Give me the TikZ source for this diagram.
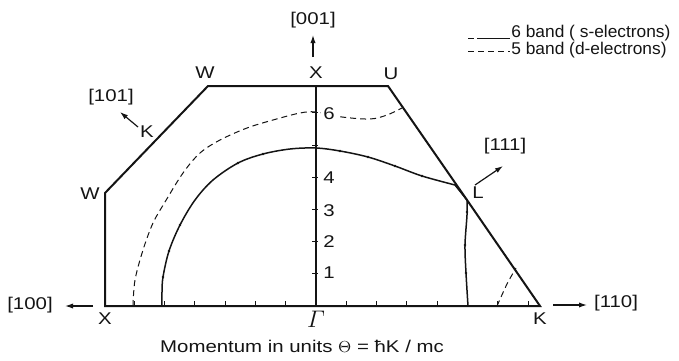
\documentclass[tikz,border=0pt]{standalone}
\usepackage{amsmath}
\usepackage{fontspec}
\setmainfont[FakeStretch=1.2]{Liberation Sans}
\newfontfamily\legfont[FakeStretch=1.02]{Liberation Sans}
\usetikzlibrary{arrows.meta}
\definecolor{ink}{HTML}{141414}
\tikzset{
  zone/.style={line width=1pt,ink,line join=miter},
  band/.style={line width=0.75pt,ink},
  dband/.style={line width=0.5pt,ink,dash pattern=on 3pt off 2pt},
  dirarrow/.style={-{Latex[length=4pt,width=2.6pt]},line width=0.6pt,ink},
  lbl/.style={font=\fontsize{8.5}{10}\selectfont,text=ink,inner sep=0pt}
}

\begin{document}
\begin{tikzpicture}[x=0.5pt,y=-0.5pt,
  tk/.style={line width=0.5pt,ink},
  axis/.style={line width=0.55pt,ink},
  dot/.style={ink},
  leg/.style={lbl,font=\legfont\fontsize{8.5}{10}\selectfont,anchor=west}]
\useasboundingbox (0,0) rectangle (679,360);
% corners of the zone
\coordinate (Gam) at (316,306);
\coordinate (Xl) at (105,306);
\coordinate (Wl) at (105,193);
\coordinate (Kl) at (156,140);
\coordinate (Wt) at (208,86);
\coordinate (Xt) at (316,86);
\coordinate (U) at (388,86);
\coordinate (L) at (467,200);
\coordinate (Kr) at (540,306);
\draw[zone] (Xl)--(Wl)--(Kl)--(Wt)--(Xt)--(U)--(L)--(Kr)--cycle;
\draw[axis] (Xt)--(Gam);
% ticks
\foreach \i in {-6,...,-1,1,2,...,7}
  \draw[tk] (316+30.3*\i,306) -- ++(0,-5);
\foreach \j in {1,...,6}
  \draw[tk] (312,306-32.2*\j) -- ++(6,0);
% bands
\draw[band] plot[smooth,tension=0.55] coordinates {(162,306) (162,292) (163,277)
  (169,251) (180,225) (195,200) (213,180) (238,163) (263,154) (290,149)
  (316,148) (340,151) (368,157) (395,166) (422,176) (455,185)}
  -- (L) plot[smooth,tension=0.55] coordinates {(467,200) (467,215) (465,245)
  (466,273) (468,306)};
\foreach \p in {(163,277),(169,251),(180,225),(238,163),(263,154),(340,151),
  (368,157),(395,166),(422,176),(467,212),(465,245),(466,273)}
  \fill[dot] \p circle (1.3);
\draw[dband] plot[smooth,tension=0.55] coordinates {(133,306) (135,280) (143,250)
  (153,223) (165,202) (183,173) (200,153) (220,140) (247,128) (273,120)
  (300,113) (316,112) (342,117) (370,119) (387,115) (402,108)};
\draw[dband] plot[smooth] coordinates {(497,306) (507,284) (516,268)};
% labels
\node[lbl] (lXt) at (316,73) {X};
\node[lbl] (lWt) at (205,73) {W};
\node[lbl] (lU) at (391,74) {U};
\node[lbl] (lWl) at (90,194) {W};
\node[lbl] (lKl) at (147,132) {K};
\node[lbl] (lXl) at (105,319) {X};
\node[lbl,font=\fontsize{11.5}{13}\selectfont] (lGam) at (316,319) {$\varGamma$};
\node[lbl] (lKr) at (540,319) {K};
\node[lbl] (lL) at (478,193) {L};
\node[lbl] (n1) at (329,273) {1};
\node[lbl] (n2) at (329,242) {2};
\node[lbl] (n3) at (329,211) {3};
\node[lbl] (n4) at (329,178) {4};
\node[lbl,fill=white,inner sep=1pt] (n6) at (329,114) {6};
% directions
\node[lbl] (d001) at (313,20) {[001]};
\node[lbl] (d101) at (111,97) {[101]};
\node[lbl] (d100) at (30,305) {[100]};
\node[lbl] (d110) at (616,303) {[110]};
\node[lbl] (d111) at (505,146) {[111]};
\coordinate (a001) at (313,57);
\coordinate (b001) at (313,35);
\coordinate (a101) at (138,127);
\coordinate (b101) at (120,112);
\coordinate (a100) at (93,306);
\coordinate (b100) at (65,306);
\coordinate (a110) at (553,305);
\coordinate (b110) at (587,305);
\coordinate (a111) at (475,185);
\coordinate (b111) at (503,166);
\draw[dirarrow] (a001)--(b001);
\draw[dirarrow] (a101)--(b101);
\draw[dirarrow] (a100)--(b100);
\draw[dirarrow] (a110)--(b110);
\draw[dirarrow] (a111)--(b111);
% legend
\coordinate (s1) at (468,38);
\coordinate (s1b) at (474,38);
\coordinate (s2a) at (477,38);
\coordinate (s2) at (510,38);
\coordinate (t1) at (468,51);
\coordinate (t2) at (510,51);
\draw[band,line width=0.5pt] (s1)--(s1b) (s2a)--(s2);
\draw[dband] (t1)--(t2);
\node[leg] (leg6) at (511,33) {6 band ( s-electrons)};
\node[leg] (leg5) at (511,50) {5 band (d-electrons)};
\node[lbl] (cap) at (302,346) {Momentum in units $\Theta$ = ħK / mc};
\end{tikzpicture}
\end{document}
